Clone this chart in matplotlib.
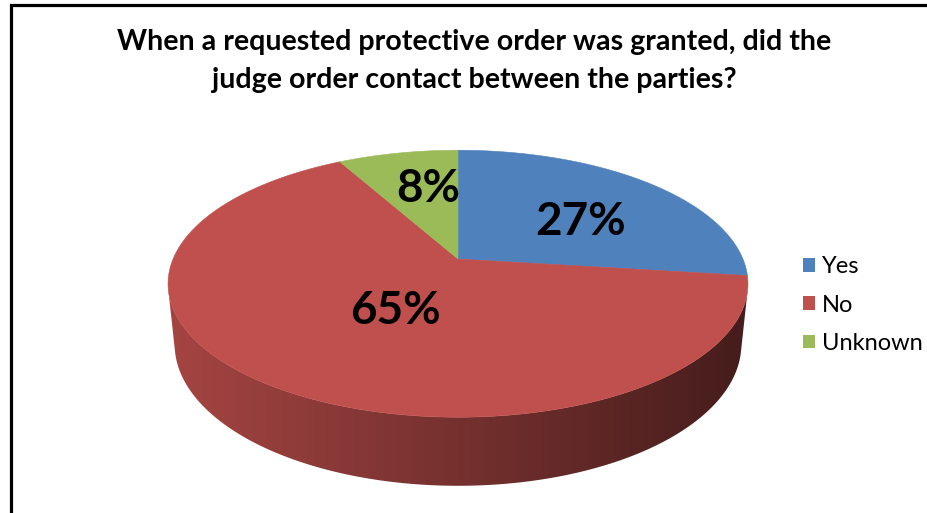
import numpy as np
import matplotlib
matplotlib.use("Agg")
import matplotlib.pyplot as plt
from matplotlib.patches import Polygon, Patch
from matplotlib.colors import to_rgb

# ---- data -------------------------------------------------------------
title_lines = ["When a requested protective order was granted, did the",
               "judge order contact between the parties?"]
categories = ["Yes", "No", "Unknown"]
shares = [27, 65, 8]
slice_colors = ["#4f81bd", "#c0504d", "#9bbb59"]

# ---- figure -----------------------------------------------------------
W, H = 927, 513
plt.rcParams["font.family"] = ["Lato", "DejaVu Sans"]
fig = plt.figure(figsize=(W / 100, H / 100), dpi=100)
ax = fig.add_axes([0, 0, 1, 1])
ax.set_xlim(0, W)
ax.set_ylim(H, 0)
ax.axis("off")

# ---- simple perspective camera for a 3-D pie ----------------------------
elev = np.radians(26.9)
dist = 4.815
focal = 1372.0
thickness = 0.24
cx, cy = 458.0, 259.0
s_e, c_e = np.sin(elev), np.cos(elev)


def project(X, Y, Z):
    X, Y, Z = np.broadcast_arrays(np.asarray(X, float), np.asarray(Y, float),
                                  np.asarray(Z, float))
    depth = dist + Y * c_e - Z * s_e
    sx = focal * X / depth
    sy = focal * (Y * s_e + Z * c_e) / depth
    return cx + sx, cy - sy


total = float(sum(shares))
fractions = np.array(shares) / total
bounds = np.radians(90.0 - 360.0 * np.concatenate([[0], np.cumsum(fractions)]))

# side wall: visible front half of the cylinder, one piece per slice,
# filled with a left-to-right darkening gradient
theta0 = np.arcsin(1.0 / (dist * c_e))
t_lo, t_hi = -np.pi + theta0, -theta0
full_t = np.linspace(t_lo, t_hi, 600)
fx, _ = project(np.cos(full_t), np.sin(full_t), 0.0)
wx0, wx1 = fx.min(), fx.max()

for k in range(len(shares)):
    # slice angular range, intersected with the visible range
    a0, a1 = sorted([bounds[k + 1], bounds[k]])
    pieces = []
    for shift in (-2 * np.pi, 0.0, 2 * np.pi):
        lo, hi = max(a0 + shift, t_lo), min(a1 + shift, t_hi)
        if hi > lo:
            pieces.append((lo, hi))
    for lo, hi in pieces:
        tt = np.linspace(lo, hi, 300)
        xt, yt = project(np.cos(tt), np.sin(tt), 0.0)
        xb, yb = project(np.cos(tt), np.sin(tt), -thickness)
        poly = np.column_stack([np.r_[xt, xb[::-1]], np.r_[yt, yb[::-1]]])
        patch = Polygon(poly, closed=True, facecolor="none",
                        edgecolor="none", zorder=2)
        ax.add_patch(patch)
        base = np.array(to_rgb(slice_colors[k]))
        cols = np.linspace(0, 1, 256)
        shade = 0.86 - 0.50 * cols
        grad = np.clip(base[None, :] * shade[:, None], 0, 1)[None, :, :]
        ytop, ybot = poly[:, 1].min() - 2, poly[:, 1].max() + 2
        im = ax.imshow(grad, extent=(wx0, wx1, ybot, ytop), aspect="auto",
                       interpolation="bilinear", zorder=2)
        im.set_clip_path(patch)

# top face slices
ox, oy = project(0.0, 0.0, 0.0)
for k in range(len(shares)):
    arc = np.linspace(bounds[k], bounds[k + 1], 200)
    px, py = project(np.cos(arc), np.sin(arc), 0.0)
    pts = np.column_stack([np.r_[ox, px], np.r_[oy, py]])
    ax.add_patch(Polygon(pts, closed=True, facecolor=slice_colors[k],
                         edgecolor=slice_colors[k], linewidth=0.4, zorder=3))

# percentage labels (baseline placed from each slice's mid-angle point)
label_radius = [0.55, 0.40, 0.70]
label_nudge = [(12, 20), (6, 20), (14, 21)]
for k in range(len(shares)):
    mid = 0.5 * (bounds[k] + bounds[k + 1])
    lx, ly = project(label_radius[k] * np.cos(mid),
                     label_radius[k] * np.sin(mid), 0.0)
    ax.text(lx + label_nudge[k][0], ly + label_nudge[k][1], f"{shares[k]}%",
            ha="center", va="baseline", fontsize=33, fontweight="bold",
            color="black", zorder=5)

# title
ax.text(474, 42, title_lines[0], ha="center", va="center",
        fontsize=20.6, fontweight="bold", color="black")
ax.text(474, 80, title_lines[1], ha="center", va="center",
        fontsize=20.6, fontweight="bold", color="black")

# legend
handles = [Patch(facecolor=c, edgecolor="none") for c in slice_colors]
fig.legend(handles, categories, loc="center left",
           bbox_to_anchor=(803 / W, 1 - 305 / H), frameon=False,
           borderpad=0, borderaxespad=0,
           handlelength=0.52, handleheight=0.52, handletextpad=0.3,
           labelspacing=0.74, fontsize=17)

# chart border (top and left edges)
ax.plot([11, 11, W + 5], [H + 5, 5, 5], color="black", linewidth=2.3,
        solid_joinstyle="miter", clip_on=False, zorder=10)

fig.savefig("out.png", dpi=100)
